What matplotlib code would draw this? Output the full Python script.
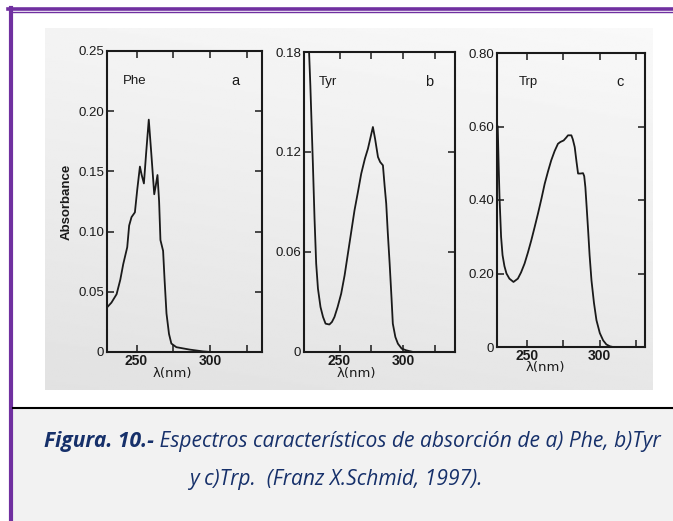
import numpy as np
import matplotlib
matplotlib.use("Agg")
import matplotlib.pyplot as plt
from matplotlib.patches import Rectangle
from matplotlib.lines import Line2D

# ---------------- data ----------------
phe_nm = [230, 233, 236.5, 239, 241, 243.7, 245, 246.6, 248.9, 250.5, 252.3, 253.5, 255,
          256.5, 258.3, 260, 262, 263, 264.2, 265.3, 266.2, 268, 269, 270.3, 272, 273.6,
          277, 286, 295, 300]
phe_abs = [0.037, 0.041, 0.048, 0.060, 0.073, 0.087, 0.105, 0.112, 0.116, 0.135, 0.154, 0.147,
           0.140, 0.165, 0.193, 0.165, 0.131, 0.138, 0.147, 0.125, 0.093, 0.084, 0.060, 0.032,
           0.015, 0.007, 0.004, 0.002, 0.0005, 0.0]

tyr_nm = [225, 227, 229, 230.3, 231.6, 233, 235, 237, 239, 242, 244, 246, 248.5, 251.3, 254,
          256.6, 259, 261.8, 264.5, 267.1, 270, 272.4, 274.5, 276.3, 278, 280.3, 282, 284.2,
          285.5, 286.8, 288, 289.5, 291, 292, 294, 296, 299, 302.6, 308]
tyr_abs = [0.20, 0.16, 0.113, 0.080, 0.053, 0.038, 0.027, 0.021, 0.017, 0.0165, 0.018, 0.021,
           0.027, 0.035, 0.046, 0.059, 0.071, 0.085, 0.096, 0.107, 0.116, 0.122, 0.129, 0.135,
           0.128, 0.117, 0.114, 0.112, 0.100, 0.089, 0.072, 0.053, 0.032, 0.017, 0.009, 0.005,
           0.002, 0.001, 0.0]

trp_nm = [230, 230.6, 231.2, 232.3, 233.3, 234.6, 236, 238, 240.8, 243.8, 246, 248.4, 250.7,
          253, 255.3, 257.6, 260, 262.2, 264.5, 266.7, 269, 271.3, 273, 275.2, 277, 278.2,
          280.5, 281.5, 282.8, 284, 285.1, 286.7, 288.5, 289.3, 290.1, 291, 292, 293, 294.3,
          296, 297.7, 300, 302.3, 304.5, 306.9, 309]
trp_abs = [0.60, 0.50, 0.41, 0.30, 0.25, 0.22, 0.20, 0.186, 0.177, 0.186, 0.203, 0.227, 0.257,
           0.29, 0.326, 0.363, 0.404, 0.444, 0.478, 0.508, 0.533, 0.553, 0.558, 0.562, 0.570,
           0.576, 0.576, 0.565, 0.544, 0.505, 0.472, 0.472, 0.473, 0.465, 0.435, 0.38, 0.317,
           0.25, 0.181, 0.12, 0.073, 0.038, 0.018, 0.007, 0.002, 0.0]

phe_yticks = [0, 0.05, 0.10, 0.15, 0.20, 0.25]
phe_ylabels = ["0", "0.05", "0.10", "0.15", "0.20", "0.25"]
tyr_yticks = [0, 0.06, 0.12, 0.18]
tyr_ylabels = ["0", "0.06", "0.12", "0.18"]
trp_yticks = [0, 0.20, 0.40, 0.60, 0.80]
trp_ylabels = ["0", "0.20", "0.40", "0.60", "0.80"]
x_major = [250, 300]
x_major_labels = ["250", "300"]
x_minor = [275, 325]

names = ["Phe", "Tyr", "Trp"]
letters = ["a", "b", "c"]

caption_bold = "Figura. 10.-"
caption_rest = " Espectros característicos de absorción de a) Phe, b)Tyr"
caption_line2 = "y c)Trp.  (Franz X.Schmid, 1997)."

# ---------------- figure ----------------
W, H = 673, 521
fig = plt.figure(figsize=(W / 100, H / 100), dpi=100)
fig.patch.set_facecolor("white")

def fx(px):
    return px / W

def fy(py):
    return 1 - py / H

# caption background
fig.add_artist(Rectangle((fx(12), 0), 1 - fx(12), fy(409), transform=fig.transFigure,
                         facecolor="#f2f2f2", edgecolor="none", zorder=0))
# frame lines
purple = "#7030a0"
fig.add_artist(Line2D([fx(8), 1], [fy(9.2), fy(9.2)], transform=fig.transFigure,
                      color=purple, lw=2.6, zorder=5))
fig.add_artist(Line2D([fx(12), 1], [fy(12), fy(12)], transform=fig.transFigure,
                      color=purple, lw=1.0, zorder=5))
fig.add_artist(Line2D([fx(11.5), fx(11.5)], [fy(8), 0], transform=fig.transFigure,
                      color=purple, lw=3.0, zorder=5))
fig.add_artist(Line2D([fx(13), 1], [fy(408), fy(408)], transform=fig.transFigure,
                      color="black", lw=1.5, zorder=5))

# scanned paper background (gradient)
bg = fig.add_axes([fx(45), fy(390), fx(653 - 45), (390 - 28) / H], zorder=0)
gy, gx = np.mgrid[0:1:200j, 0:1:300j]
shade = 0.955 - 0.07 * gy + 0.02 * gx
bg.imshow(shade, cmap="gray", vmin=0, vmax=1, aspect="auto", extent=[0, 1, 0, 1])
bg.set_axis_off()

font = "Liberation Sans"
ink = "#1a1a1a"

def make_axes(box, x, y, xlim, ylim, yticks, ylabels, name, letter, xlab_px, ylabel=None):
    l, t, r, b = box
    hpx = b - t
    ax = fig.add_axes([fx(l), fy(b), fx(r - l), hpx / H], zorder=2)
    ax.set_facecolor("none")
    ax.plot(x, y, color=ink, lw=1.3, clip_on=True)
    ax.set_xlim(*xlim)
    ax.set_ylim(*ylim)
    ax.set_yticks(yticks)
    ax.set_yticklabels(ylabels)
    ax.set_xticks(x_major)
    ax.set_xticklabels(x_major_labels)
    ax.set_xticks(x_minor, minor=True)
    ax.tick_params(which="both", direction="in", top=True, right=True, length=5,
                   width=1.1, color=ink, labelcolor=ink)
    ax.tick_params(axis="y", labelsize=9.5, pad=2)
    ax.tick_params(axis="x", labelsize=10, pad=1.5)
    for lab in ax.get_xticklabels() + ax.get_yticklabels():
        lab.set_family(font)
    for lab in ax.get_xticklabels():
        lab.set_fontweight("bold")
    for s in ax.spines.values():
        s.set_linewidth(1.5)
        s.set_color(ink)
    ax.set_xlabel("λ(nm)", fontsize=9.5, family="DejaVu Sans", color=ink)
    ax.xaxis.set_label_coords((xlab_px - l) / (r - l), -14.5 / hpx)
    if ylabel:
        ax.set_ylabel(ylabel, fontsize=9.5, family=font, color=ink, labelpad=4,
                      fontweight="bold")
    ax.text(0.10 if name != "Trp" else 0.15, 0.90, name, transform=ax.transAxes,
            fontsize=9.5, family=font, color=ink, va="center", ha="left")
    ax.text(0.83, 0.90, letter, transform=ax.transAxes, fontsize=10.5, family=font,
            color=ink, va="center", ha="center")
    return ax

make_axes((107, 51, 262, 352), phe_nm, phe_abs, (230, 335), (0, 0.25),
          phe_yticks, phe_ylabels, names[0], letters[0], 172, ylabel="Absorbance")
make_axes((304, 52, 455, 352), tyr_nm, tyr_abs, (222, 341), (0, 0.18),
          tyr_yticks, tyr_ylabels, names[1], letters[1], 356)
make_axes((497, 53, 645, 347), trp_nm, trp_abs, (229.5, 331), (0, 0.80),
          trp_yticks, trp_ylabels, names[2], letters[2], 545)

# caption (fit line 1 to the reference width of ~618 px)
navy = "#16306a"
cap_font = "Open Sans"
base = 12.0
fig.canvas.draw()
renderer = fig.canvas.get_renderer()
t1 = fig.text(0, fy(441), caption_bold, fontsize=base, family=cap_font,
              style="italic", weight="bold", color=navy, va="center", ha="left")
t2 = fig.text(0, fy(441), caption_rest, fontsize=base, family=cap_font,
              style="italic", color=navy, va="center", ha="left")
w = t1.get_window_extent(renderer).width + t2.get_window_extent(renderer).width
size = base * 615 / w
t1.set_fontsize(size)
t2.set_fontsize(size)
w1 = t1.get_window_extent(renderer).width
w2 = t2.get_window_extent(renderer).width
start = 352.5 - (w1 + w2) / 2
t1.set_x(fx(start))
t2.set_x(fx(start + w1))
fig.text(fx(336), fy(480), caption_line2, fontsize=size, family=cap_font,
         style="italic", color=navy, va="center", ha="center")

fig.savefig("out.png", dpi=100, facecolor=fig.get_facecolor())
